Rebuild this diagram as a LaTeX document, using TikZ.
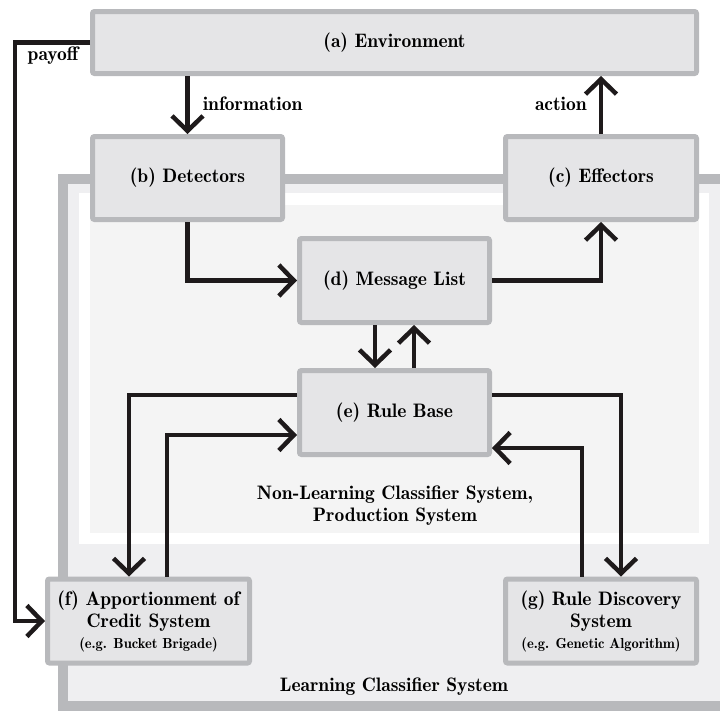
\documentclass[tikz,border=0pt]{standalone}
\usetikzlibrary{arrows.meta}
\definecolor{bordergray}{HTML}{B8B9BC}
\definecolor{boxfill}{HTML}{E5E5E7}
\definecolor{outerfill}{HTML}{EFEFF1}
\definecolor{innerfill}{HTML}{F4F4F4}
\definecolor{linecol}{HTML}{1E1A1B}
\newcommand{\mainfnt}{\fontsize{19.5}{22}\selectfont\fontseries{b}\selectfont}
\newcommand{\subfnt}{\fontsize{14.5}{17}\selectfont}
\tikzset{
  box/.style={draw=bordergray, fill=boxfill, line width=5pt, rounded corners=2pt,
    align=center, inner sep=0pt, font=\mainfnt},
  arr/.style={draw=linecol, line width=4.5pt,
    -{Straight Barb[length=15pt,width=31pt]}},
  lbl/.style={font=\mainfnt, inner sep=0pt},
  plain/.style={font=\mainfnt, align=center}
}
\begin{document}
\begin{tikzpicture}[x=1pt,y=-1pt]
\useasboundingbox (0,0) rectangle (720,710);
\clip (0,0) rectangle (720,710);
% background frames
\draw[fill=outerfill, draw=bordergray, line width=10pt] (62.5,179) rectangle (735,706);
\fill[white] (79,193) rectangle (709,544);
\fill[innerfill] (90,205) rectangle (699,533);
% boxes
\node[box, minimum width=604pt, minimum height=62pt] (env) at (394.5,42.5) {(a) Environment};
\node[box, minimum width=190pt, minimum height=83pt] (det) at (187.5,178) {(b) Detectors};
\node[box, minimum width=191pt, minimum height=83pt] (eff) at (601,178) {(c) Effectors};
\node[box, minimum width=190pt, minimum height=84pt] (msg) at (394.5,280.5) {(d) Message List};
\node[box, minimum width=190pt, minimum height=84pt] (rule) at (394.5,412.5) {(e) Rule Base};
\node[box, minimum width=202pt, minimum height=84pt] (apc) at (148.5,621) {(f) Apportionment of\\ Credit System\\[-1pt] {\subfnt (e.g. Bucket Brigade)}};
\node[box, minimum width=191pt, minimum height=84pt] (rds) at (601,621) {(g) Rule Discovery\\ System\\[-1pt] {\subfnt (e.g. Genetic Algorithm)}};
% texts
\node[plain] (nlcs) at (395,506) {Non-Learning Classifier System,\\ Production System};
\node[plain] (lcs) at (394,687) {Learning Classifier System};
% connectors
\coordinate (payx) at (15,0);
\draw[arr] (env.south -| det.north) -- node[lbl, right=13pt, pos=0.48] {information} (det.north);
\draw[arr] (eff.north) -- node[lbl, left=12pt, pos=0.52] {action} (eff.north |- env.south);
\draw[arr] (env.west) -- (env.west -| payx) -- (apc.west -| payx) -- (apc.west);
\node[lbl] (payoff) at (53,56) {payoff};
\draw[arr] (det.south) |- (msg.west);
\draw[arr] (msg.east) -| (eff.south);
\draw[arr] ([xshift=-19.5pt]msg.south) -- ([xshift=-19.5pt]rule.north);
\draw[arr] ([xshift=19.5pt]rule.north) -- ([xshift=19.5pt]msg.south);
\draw[arr] ([yshift=17.5pt]rule.west) -| ([xshift=-19.5pt]apc.north);
\draw[arr] ([xshift=18.5pt]apc.north) |- ([yshift=-22.5pt]rule.west);
\draw[arr] ([yshift=17.5pt]rule.east) -| ([xshift=20pt]rds.north);
\draw[arr] ([xshift=-19pt]rds.north) |- ([yshift=-35.5pt]rule.east);
\end{tikzpicture}
\end{document}
